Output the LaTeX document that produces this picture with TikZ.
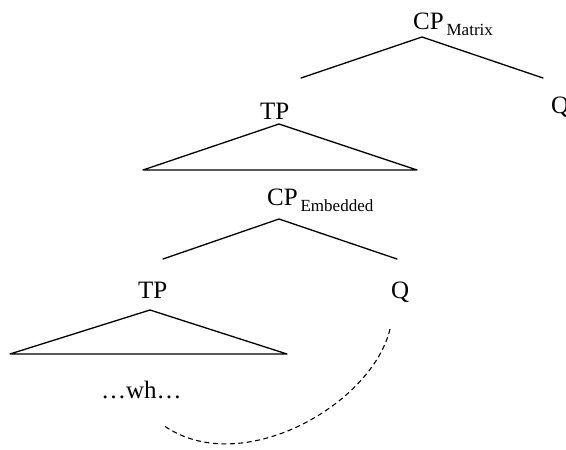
\documentclass[tikz,border=0pt]{standalone}
\usepackage{fontspec}
\setmainfont{Liberation Serif}
\begin{document}
\begin{tikzpicture}[x=1pt,y=-1pt,
  lbl/.style={inner sep=0pt,anchor=base west,font=\fontsize{25}{30}\selectfont},
  branch/.style={line width=1.3pt,line cap=round,line join=round},
  movement/.style={line width=1.1pt,dash pattern=on 5pt off 3.5pt}]
\newcommand{\subtag}[1]{{\fontsize{17}{20}\selectfont\,\raisebox{-6pt}{#1}}}
\useasboundingbox (0,0) rectangle (566,450);

% matrix clause
\node[lbl] (cpm) at (413,29) {CP\subtag{Matrix}};
\coordinate (cpmtop) at (422,37);
\coordinate (cpml) at (301,78);
\coordinate (cpmr) at (543,78);
\draw[branch] (cpml) -- (cpmtop) -- (cpmr);
\node[lbl] (qm) at (551,113) {Q};

% matrix TP with its triangle
\node[lbl] (tpm) at (260,119) {TP};
\coordinate (tpmtop) at (279,124);
\coordinate (tpml) at (143,170);
\coordinate (tpmr) at (417,170);
\draw[branch] (tpml) -- (tpmtop) -- (tpmr) -- cycle;

% embedded clause
\node[lbl] (cpe) at (267,205) {CP\subtag{Embedded}};
\coordinate (cpetop) at (279,219);
\coordinate (cpel) at (163,259);
\coordinate (cper) at (397,259);
\draw[branch] (cpel) -- (cpetop) -- (cper);

\node[lbl] (tpe) at (138,298) {TP};
\node[lbl] (qe) at (391,298) {Q};
\coordinate (tpetop) at (150,310);
\coordinate (tpel) at (10,354);
\coordinate (tper) at (287,354);
\draw[branch] (tpel) -- (tpetop) -- (tper) -- cycle;

\node[lbl] (wh) at (101,398) {\ldots wh\ldots};

% dependency between Q and the wh-phrase
\coordinate (qfoot) at (390,329);
\coordinate (whfoot) at (163,425);
\draw[movement] (qfoot) .. controls (372,405) and (240,480) .. (whfoot);
\end{tikzpicture}
\end{document}
